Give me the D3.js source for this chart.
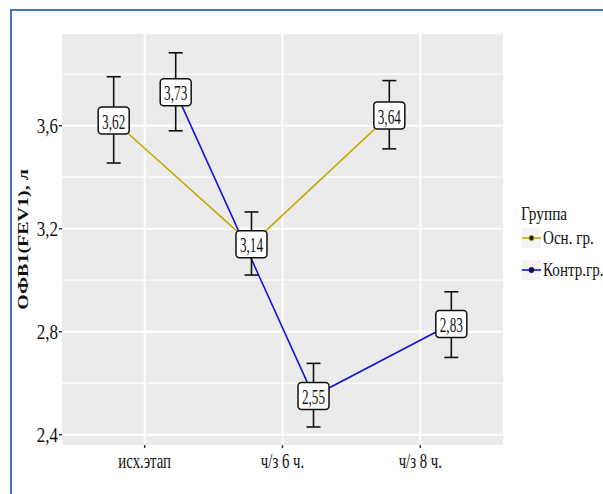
<!DOCTYPE html>
<html>
<head>
<meta charset="utf-8">
<script src="https://cdn.jsdelivr.net/npm/d3@7"></script>
<style>
  body { margin: 0; background: #fff; }
  text { font-family: "Liberation Serif", "DejaVu Serif", serif; fill: #111; }
</style>
</head>
<body>
<svg id="chart" width="603" height="494"></svg>
<script>
// data
const stages = ['исх.этап', 'ч/з 6 ч.', 'ч/з 8 ч.'];
const groups = ['Осн. гр.', 'Контр.гр.'];
const groupColors = ['#c9a800', '#1414d2'];
const meanOsn = [3.62, 3.14, 3.64];
const lowOsn = [3.455, 3.02, 3.51];
const highOsn = [3.79, 3.265, 3.775];
const meanKontr = [3.73, 2.55, 2.83];
const lowKontr = [3.58, 2.43, 2.70];
const highKontr = [3.883, 2.677, 2.955];
const yTicks = [2.4, 2.8, 3.2, 3.6];
const yMinor = [2.6, 3.0, 3.4, 3.8];
const yTitle = 'ОФВ1(FEV1), л';
const legendTitle = 'Группа';

const fmt = v => d3.format('.2f')(v).replace('.', ',');
const fmtTick = v => d3.format('.1f')(v).replace('.', ',');

const series = [
  { name: groups[0], color: groupColors[0], dodge: -1,
    pts: stages.map((s, i) => ({ stage: s, m: meanOsn[i], lo: lowOsn[i], hi: highOsn[i] })) },
  { name: groups[1], color: groupColors[1], dodge: 1,
    pts: stages.map((s, i) => ({ stage: s, m: meanKontr[i], lo: lowKontr[i], hi: highKontr[i] })) }
];

const svg = d3.select('#chart');
const panel = { left: 62, right: 503, top: 34, bottom: 445 };

const x = d3.scalePoint().domain(stages).range([panel.left, panel.right]).padding(0.6);
const y = d3.scaleLinear().domain([2.36, 3.956]).range([panel.bottom, panel.top]);
const dodgeOff = x.step() * 0.225;
const px = (s, d) => x(s) + d.dodge * dodgeOff;

// frame border (only left and top visible)
svg.append('path')
  .attr('d', 'M 11 494 L 11 10 L 603 10')
  .attr('fill', 'none')
  .attr('stroke', '#4472c4')
  .attr('stroke-width', 2);

// panel
svg.append('rect')
  .attr('x', panel.left).attr('y', panel.top)
  .attr('width', panel.right - panel.left).attr('height', panel.bottom - panel.top)
  .attr('fill', '#ebebeb');

const grid = svg.append('g');
grid.selectAll('line.minor').data(yMinor).join('line')
  .attr('x1', panel.left).attr('x2', panel.right)
  .attr('y1', d => y(d)).attr('y2', d => y(d))
  .attr('stroke', '#fff').attr('stroke-width', 1.3);
grid.selectAll('line.major').data(yTicks).join('line')
  .attr('x1', panel.left).attr('x2', panel.right)
  .attr('y1', d => y(d)).attr('y2', d => y(d))
  .attr('stroke', '#fff').attr('stroke-width', 2);
grid.selectAll('line.vert').data(stages).join('line')
  .attr('x1', d => x(d)).attr('x2', d => x(d))
  .attr('y1', panel.top).attr('y2', panel.bottom)
  .attr('stroke', '#fff').attr('stroke-width', 2);

// axes
const yAxis = svg.append('g');
yTicks.forEach(t => {
  yAxis.append('line')
    .attr('x1', panel.left - 3).attr('x2', panel.left)
    .attr('y1', y(t)).attr('y2', y(t))
    .attr('stroke', '#333').attr('stroke-width', 1.5);
  yAxis.append('text')
    .attr('transform', `translate(${panel.left - 4},${y(t)}) scale(0.85,1)`)
    .attr('text-anchor', 'end')
    .attr('dominant-baseline', 'central')
    .style('font-size', '20px')
    .text(fmtTick(t));
});

const xAxis = svg.append('g');
stages.forEach(s => {
  xAxis.append('line')
    .attr('x1', x(s)).attr('x2', x(s))
    .attr('y1', panel.bottom).attr('y2', panel.bottom + 3)
    .attr('stroke', '#333').attr('stroke-width', 1.5);
  xAxis.append('text')
    .attr('transform', `translate(${x(s)},468) scale(0.74,1)`)
    .attr('text-anchor', 'middle')
    .style('font-size', '20px')
    .text(s);
});

svg.append('text')
  .attr('transform', `translate(23,${(panel.top + panel.bottom) / 2}) rotate(-90) scale(1,0.75)`)
  .attr('text-anchor', 'middle')
  .attr('dominant-baseline', 'central')
  .style('font-size', '20px')
  .style('font-weight', 'bold')
  .text(yTitle);

// lines
const line = d3.line();
series.forEach(sr => {
  svg.append('path')
    .attr('d', line(sr.pts.map(p => [px(p.stage, sr), y(p.m)])))
    .attr('fill', 'none')
    .attr('stroke', sr.color)
    .attr('stroke-width', 1.6);
});

// error bars
const capW = 7;
series.forEach(sr => {
  const g = svg.append('g').attr('stroke', '#111').attr('stroke-width', 1.6);
  sr.pts.forEach(p => {
    const cx = px(p.stage, sr);
    g.append('line').attr('x1', cx).attr('x2', cx).attr('y1', y(p.lo)).attr('y2', y(p.hi));
    g.append('line').attr('x1', cx - capW).attr('x2', cx + capW).attr('y1', y(p.lo)).attr('y2', y(p.lo));
    g.append('line').attr('x1', cx - capW).attr('x2', cx + capW).attr('y1', y(p.hi)).attr('y2', y(p.hi));
  });
});

// labels
series.forEach(sr => {
  sr.pts.forEach(p => {
    const cx = px(p.stage, sr), cy = y(p.m);
    svg.append('rect')
      .attr('x', cx - 15.5).attr('y', cy - 13.5)
      .attr('width', 31).attr('height', 27)
      .attr('rx', 3.5)
      .attr('fill', '#fff')
      .attr('stroke', '#111')
      .attr('stroke-width', 1.5);
    svg.append('text')
      .attr('transform', `translate(${cx},${cy + 1}) scale(0.63,1)`)
      .attr('text-anchor', 'middle')
      .attr('dominant-baseline', 'central')
      .style('font-size', '21px')
      .text(fmt(p.m));
  });
});

// legend
const legend = svg.append('g');
legend.append('text')
  .attr('transform', 'translate(521,214) scale(0.85,1)')
  .attr('dominant-baseline', 'central')
  .style('font-size', '18px')
  .text(legendTitle);
series.forEach((sr, i) => {
  const cy = 238 + i * 32;
  legend.append('rect')
    .attr('x', 522).attr('y', cy - 10)
    .attr('width', 19).attr('height', 20)
    .attr('fill', '#f4f4f4');
  legend.append('line')
    .attr('x1', 522).attr('x2', 541)
    .attr('y1', cy).attr('y2', cy)
    .attr('stroke', sr.color).attr('stroke-width', 1.6);
  legend.append('circle')
    .attr('cx', 531.5).attr('cy', cy).attr('r', 2.6)
    .attr('fill', '#111')
    .attr('stroke', sr.color).attr('stroke-width', 1);
  legend.append('text')
    .attr('transform', `translate(543,${cy}) scale(0.84,1)`)
    .attr('dominant-baseline', 'central')
    .style('font-size', '18px')
    .text(sr.name);
});
</script>
</body>
</html>
